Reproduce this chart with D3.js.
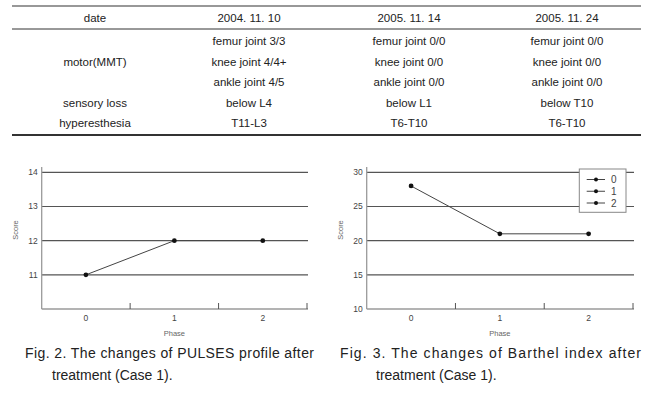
<!DOCTYPE html>
<html lang="en">
<head>
<meta charset="UTF-8">
<script src="https://d3js.org/d3.v7.min.js"></script>
<style>
  body { margin: 0; background: #fff; }
  svg { font-family: "Liberation Sans", Arial, sans-serif; }
</style>
</head>
<body>
<svg id="fig" width="648" height="398"></svg>
<script>
// table contents
const colHeads = ["date", "2004. 11. 10", "2005. 11. 14", "2005. 11. 24"];
const rowLabels = ["", "motor(MMT)", "", "sensory loss", "hyperesthesia"];
const femurRow = ["femur joint 3/3", "femur joint 0/0", "femur joint 0/0"];
const kneeRow = ["knee joint 4/4+", "knee joint 0/0", "knee joint 0/0"];
const ankleRow = ["ankle joint 4/5", "ankle joint 0/0", "ankle joint 0/0"];
const sensoryRow = ["below L4", "below L1", "below T10"];
const hyperRow = ["T11-L3", "T6-T10", "T6-T10"];

// chart data
const phases = [0, 1, 2];
const pulses = [11, 12, 12];
const barthel = [28, 21, 21];
const pulsesTicks = [11, 12, 13, 14];
const barthelTicks = [10, 15, 20, 25, 30];
const legendLabels = ["0", "1", "2"];

const caption2 = ["Fig. 2. The changes of PULSES profile after", "treatment (Case 1)."];
const caption3 = ["Fig. 3. The changes of Barthel index after", "treatment (Case 1)."];

const svg = d3.select("#fig");

// ---- table ----
function drawTable() {
  const g = svg.append("g");
  const cx = d3.scaleOrdinal().domain([0, 1, 2, 3]).range([95, 249, 409, 567]);
  const ry = d3.scaleLinear().domain([0, 1]).range([41, 61.5]);
  const lines = [[6, 1.2], [29, 1], [135, 2]];
  lines.forEach(l => {
    g.append("line").attr("x1", 12).attr("x2", 641).attr("y1", l[0]).attr("y2", l[0])
      .attr("stroke", "#333").attr("stroke-width", l[1]);
  });
  const txt = (x, y, s) => g.append("text").attr("x", x).attr("y", y)
    .attr("text-anchor", "middle").attr("dominant-baseline", "central")
    .attr("font-size", 11.5).attr("fill", "#222").text(s);
  colHeads.forEach((h, i) => txt(cx(i), 18, h));
  const body = [femurRow, kneeRow, ankleRow, sensoryRow, hyperRow];
  body.forEach((row, r) => {
    if (rowLabels[r]) txt(cx(0), ry(r), rowLabels[r]);
    row.forEach((s, c) => txt(cx(c + 1), ry(r), s));
  });
}

// ---- line chart ----
function drawChart(opt) {
  const g = svg.append("g");
  const x = d3.scaleBand().domain(phases).range([opt.x0, opt.x1]);
  const y = d3.scaleLinear().domain(opt.domain).range([309, 172.3]);
  const grey = "#9a9a9a";

  // gridlines
  g.selectAll(".grid").data(opt.ticks.filter(t => t > opt.domain[0])).enter()
    .append("line")
    .attr("x1", opt.x0).attr("x2", opt.x1 + 1)
    .attr("y1", d => y(d)).attr("y2", d => y(d))
    .attr("stroke", "#555").attr("stroke-width", 1.2);

  // axes
  g.append("line").attr("x1", opt.x0).attr("x2", opt.x0).attr("y1", 167).attr("y2", 309)
    .attr("stroke", grey).attr("stroke-width", 1.3);
  g.append("line").attr("x1", opt.x0).attr("x2", opt.x1 + 1).attr("y1", 309).attr("y2", 309)
    .attr("stroke", grey).attr("stroke-width", 1.3);
  g.selectAll(".xt").data(phases).enter().append("line")
    .attr("x1", d => x(d) + x.bandwidth()).attr("x2", d => x(d) + x.bandwidth())
    .attr("y1", 303).attr("y2", 309).attr("stroke", "#555").attr("stroke-width", 1);

  // tick labels
  g.selectAll(".yl").data(opt.ticks).enter().append("text")
    .attr("x", opt.x0 - 4).attr("y", d => y(d))
    .attr("text-anchor", "end").attr("dominant-baseline", "central")
    .attr("font-size", 8.5).attr("fill", "#444").text(d => d);
  g.selectAll(".xl").data(phases).enter().append("text")
    .attr("x", d => x(d) + x.bandwidth() / 2).attr("y", 318)
    .attr("text-anchor", "middle").attr("dominant-baseline", "central")
    .attr("font-size", 8.5).attr("fill", "#444").text(d => d);
  g.append("text").attr("x", (opt.x0 + opt.x1) / 2).attr("y", 333)
    .attr("text-anchor", "middle").attr("dominant-baseline", "central")
    .attr("font-size", 7.5).attr("fill", "#666").text("Phase");
  g.append("text").attr("transform", `translate(${opt.x0 - 26},230) rotate(-90)`)
    .attr("text-anchor", "middle").attr("dominant-baseline", "central")
    .attr("font-size", 7.5).attr("fill", "#666").text("Score");

  // data line
  const pts = phases.map((p, i) => [x(p) + x.bandwidth() / 2, y(opt.values[i])]);
  g.append("path").attr("d", d3.line()(pts)).attr("fill", "none")
    .attr("stroke", "#444").attr("stroke-width", 1);
  g.selectAll(".pt").data(pts).enter().append("circle")
    .attr("cx", d => d[0]).attr("cy", d => d[1]).attr("r", 2.4)
    .attr("fill", "#111");

  if (opt.legend) {
    const lg = g.append("g");
    lg.append("rect").attr("x", 579.3).attr("y", 169).attr("width", 46.7).attr("height", 43.3)
      .attr("fill", "#fff").attr("stroke", "#888").attr("stroke-width", 1);
    const ly = d3.scalePoint().domain(legendLabels).range([179.5, 203]);
    legendLabels.forEach(l => {
      lg.append("line").attr("x1", 586.7).attr("x2", 605).attr("y1", ly(l)).attr("y2", ly(l))
        .attr("stroke", "#444").attr("stroke-width", 1);
      lg.append("circle").attr("cx", 596).attr("cy", ly(l)).attr("r", 2)
        .attr("fill", "#111");
      lg.append("text").attr("x", 611).attr("y", ly(l)).attr("dominant-baseline", "central")
        .attr("font-size", 10).attr("fill", "#444").text(l);
    });
  }
}

function drawCaption(lines, x0, x1, x2) {
  const g = svg.append("g").attr("font-size", 14).attr("fill", "#222");
  g.append("text").attr("x", x0).attr("y", 358)
    .attr("textLength", x1 - x0).attr("lengthAdjust", "spacing").text(lines[0]);
  g.append("text").attr("x", x2).attr("y", 380).text(lines[1]);
}

drawTable();
drawChart({ x0: 41.7, x1: 307, domain: [10, 14], ticks: pulsesTicks, values: pulses, legend: false });
drawChart({ x0: 366.7, x1: 633, domain: [10, 30], ticks: barthelTicks, values: barthel, legend: true });
drawCaption(caption2, 25, 314, 52);
drawCaption(caption3, 340, 641, 376);
</script>
</body>
</html>
